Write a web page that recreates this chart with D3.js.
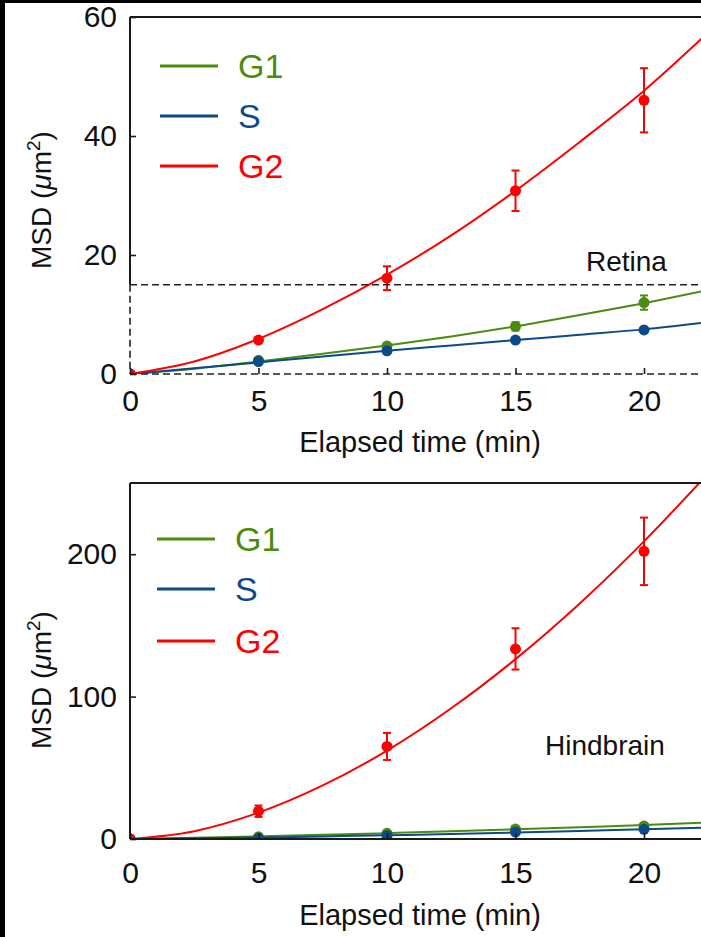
<!DOCTYPE html>
<html>
<head>
<meta charset="utf-8">
<script src="https://cdn.jsdelivr.net/npm/d3@7"></script>
<style>
  html, body { margin: 0; padding: 0; background: #fff; }
  svg { display: block; }
  text { font-family: "Liberation Sans", Arial, Helvetica, sans-serif; fill: #111; }
</style>
</head>
<body>
<svg id="chart" width="701" height="937"></svg>
<script>
// Measured time points (min)
const times = [0, 5, 10, 15, 20];
// Time grid at which the fitted MSD curves are sampled (min)
const fitTimes = [0, 2.5, 5, 7.5, 10, 12.5, 15, 17.5, 20, 22.5];

const seriesNames = ["G1", "S", "G2"];
const xTicks = [0, 5, 10, 15, 20];

// Retina: mean MSD (µm²) and error
const retinaG1 = [0, 2.3, 4.7, 8.0, 12.0];
const retinaG1Err = [0, 0.3, 0.4, 0.7, 1.2];
const retinaS = [0, 2.1, 3.9, 5.7, 7.4];
const retinaSErr = [0, 0.2, 0.3, 0.4, 0.5];
const retinaG2 = [0, 5.7, 16.1, 30.8, 46.0];
const retinaG2Err = [0, 0.5, 2.0, 3.4, 5.4];
// Retina fitted curves
const retinaG1Fit = [0, 0.9, 2.1, 3.4, 4.8, 6.3, 8.0, 9.9, 11.9, 14.1];
const retinaSFit = [0, 0.95, 1.95, 2.95, 3.9, 4.8, 5.7, 6.6, 7.5, 8.7];
const retinaG2Fit = [0, 2.1, 5.9, 10.9, 16.7, 23.3, 30.8, 39.0, 47.6, 57.4];
const retinaYTicks = [0, 20, 40, 60];
const retinaBoxTop = 15;

// Hindbrain: mean MSD (µm²) and error
const hindG1 = [0, 1.5, 4.0, 7.0, 9.2];
const hindG1Err = [0, 0.4, 0.6, 1.0, 1.5];
const hindS = [0, 0.5, 2.3, 4.9, 6.8];
const hindSErr = [0, 0.3, 0.5, 0.8, 1.2];
const hindG2 = [0, 19.5, 65.0, 133.5, 202.0];
const hindG2Err = [0, 4.0, 9.5, 14.5, 23.7];
// Hindbrain fitted curves
const hindG1Fit = [0, 0.8, 1.8, 2.9, 4.1, 5.4, 6.8, 8.3, 9.8, 11.6];
const hindSFit = [0, 0.5, 1.1, 1.8, 2.6, 3.5, 4.6, 5.7, 6.8, 8.1];
const hindG2Fit = [0, 5.5, 18.5, 37.6, 62.1, 91.8, 126.3, 165.4, 209.0, 256.8];
const hindYTicks = [0, 100, 200];

const colors = { G1: "#4b8b0f", S: "#0c4a8a", G2: "#ff0000" };

const svg = d3.select("#chart");
svg.append("rect").attr("width", 701).attr("height", 937).attr("fill", "#fff");
// dark edges of the figure page
svg.append("rect").attr("x", 0).attr("y", 0).attr("width", 701).attr("height", 3).attr("fill", "#000");
svg.append("rect").attr("x", 0).attr("y", 0).attr("width", 5).attr("height", 937).attr("fill", "#000");

function drawPanel(p) {
  const x = d3.scaleLinear().domain([0, 20]).range([130, 644]);
  const y = d3.scaleLinear().domain(p.yDomain).range([p.bottom, p.top]);
  const g = svg.append("g");

  const clipId = "clip-" + p.id;
  svg.append("clipPath").attr("id", clipId)
    .append("rect").attr("x", x(0)).attr("y", p.top)
    .attr("width", 701 - x(0)).attr("height", p.bottom - p.top);

  const plot = g.append("g").attr("clip-path", `url(#${clipId})`);

  const series = [
    { name: "G1", vals: p.G1, err: p.G1Err, fit: p.G1Fit },
    { name: "S", vals: p.S, err: p.SErr, fit: p.SFit },
    { name: "G2", vals: p.G2, err: p.G2Err, fit: p.G2Fit }
  ];

  const line = d3.line().curve(d3.curveMonotoneX)
    .x(d => x(d[0])).y(d => y(d[1]));

  series.forEach(s => {
    plot.append("path")
      .attr("d", line(fitTimes.map((t, i) => [t, s.fit[i]])))
      .attr("fill", "none").attr("stroke", colors[s.name]).attr("stroke-width", 2);
  });

  series.forEach(s => {
    const pts = times.map((t, i) => ({ t, v: s.vals[i], e: s.err[i] }));
    const eb = plot.append("g").attr("stroke", colors[s.name]).attr("stroke-width", 2);
    pts.filter(d => d.e > 0.6 * (p.yDomain[1] / 60)).forEach(d => {
      eb.append("line").attr("x1", x(d.t)).attr("x2", x(d.t))
        .attr("y1", y(d.v - d.e)).attr("y2", y(d.v + d.e));
      [d.v - d.e, d.v + d.e].forEach(v => {
        eb.append("line").attr("x1", x(d.t) - 4).attr("x2", x(d.t) + 4)
          .attr("y1", y(v)).attr("y2", y(v));
      });
    });
    plot.selectAll(null).data(pts).enter().append("circle")
      .attr("cx", d => x(d.t)).attr("cy", d => y(d.v)).attr("r", 5.5)
      .attr("fill", colors[s.name]);
  });

  // spines
  const spine = "#1a1a1a";
  g.append("line").attr("x1", x(0)).attr("x2", 701).attr("y1", p.top).attr("y2", p.top)
    .attr("stroke", spine).attr("stroke-width", 2);
  if (p.boxTop != null) {
    g.append("line").attr("x1", x(0)).attr("x2", x(0)).attr("y1", p.top).attr("y2", y(p.boxTop))
      .attr("stroke", spine).attr("stroke-width", 2);
    const dash = g.append("g").attr("stroke", "#222").attr("stroke-width", 1.6)
      .attr("stroke-dasharray", "7,4").attr("fill", "none");
    dash.append("line").attr("x1", x(0)).attr("x2", 701).attr("y1", y(p.boxTop)).attr("y2", y(p.boxTop));
    dash.append("line").attr("x1", x(0)).attr("x2", 701).attr("y1", y(0)).attr("y2", y(0));
    dash.append("line").attr("x1", x(0)).attr("x2", x(0)).attr("y1", y(p.boxTop)).attr("y2", y(0));
  } else {
    g.append("line").attr("x1", x(0)).attr("x2", x(0)).attr("y1", p.top).attr("y2", p.bottom)
      .attr("stroke", spine).attr("stroke-width", 2);
    g.append("line").attr("x1", x(0)).attr("x2", 701).attr("y1", p.bottom).attr("y2", p.bottom)
      .attr("stroke", spine).attr("stroke-width", 2);
  }

  // axes
  const xAxis = g.append("g").attr("transform", `translate(0,${p.bottom})`)
    .call(d3.axisBottom(x).tickValues(xTicks).tickSizeInner(-6).tickSizeOuter(0).tickPadding(p.xPad));
  const yAxis = g.append("g").attr("transform", `translate(${x(0)},0)`)
    .call(d3.axisLeft(y).tickValues(p.yTicks).tickSizeInner(-6).tickSizeOuter(0).tickPadding(13));
  [xAxis, yAxis].forEach(a => {
    a.select(".domain").remove();
    a.selectAll(".tick line").attr("stroke", spine).attr("stroke-width", 1.6);
    a.selectAll(".tick text").attr("font-size", 30).attr("fill", "#111")
      .attr("font-family", "Liberation Sans, Arial, sans-serif");
  });

  // axis titles
  g.append("text").attr("x", 420).attr("y", p.xTitleY).attr("text-anchor", "middle")
    .attr("font-size", 29).text("Elapsed time (min)");
  const yt = g.append("text").attr("transform", `translate(51,${p.yTitleY}) rotate(-90)`)
    .attr("text-anchor", "middle").attr("font-size", 28);
  yt.append("tspan").text("MSD (");
  yt.append("tspan").attr("font-style", "italic").text("\u03bc");
  yt.append("tspan").text("m");
  yt.append("tspan").attr("font-size", 19).attr("dy", -11).text("2");
  yt.append("tspan").attr("dy", 11).text(")");

  // legend
  seriesNames.forEach((n, i) => {
    const ly = p.legendY[i];
    g.append("line").attr("x1", p.legendX).attr("x2", p.legendX + 58)
      .attr("y1", ly).attr("y2", ly).attr("stroke", colors[n]).attr("stroke-width", 3);
    g.append("text").attr("x", p.legendX + 78).attr("y", ly).attr("dy", "0.36em")
      .attr("font-size", 34).attr("fill", colors[n]).style("fill", colors[n]).text(n);
  });

  g.append("text").attr("x", p.labelX).attr("y", p.labelY)
    .attr("font-size", 28).text(p.label);
}

drawPanel({
  id: "retina", yDomain: [0, 60], top: 17, bottom: 374, yTicks: retinaYTicks,
  G1: retinaG1, G1Err: retinaG1Err, G1Fit: retinaG1Fit,
  S: retinaS, SErr: retinaSErr, SFit: retinaSFit,
  G2: retinaG2, G2Err: retinaG2Err, G2Fit: retinaG2Fit,
  boxTop: retinaBoxTop, xPad: 16, xTitleY: 452, yTitleY: 200,
  legendX: 160, legendY: [66, 116, 166],
  label: "Retina", labelX: 586, labelY: 271
});

drawPanel({
  id: "hind", yDomain: [0, 250], top: 483, bottom: 839, yTicks: hindYTicks,
  G1: hindG1, G1Err: hindG1Err, G1Fit: hindG1Fit,
  S: hindS, SErr: hindSErr, SFit: hindSFit,
  G2: hindG2, G2Err: hindG2Err, G2Fit: hindG2Fit,
  boxTop: null, xPad: 23, xTitleY: 925, yTitleY: 680,
  legendX: 157, legendY: [539, 589, 641],
  label: "Hindbrain", labelX: 545, labelY: 755
});
</script>
</body>
</html>
